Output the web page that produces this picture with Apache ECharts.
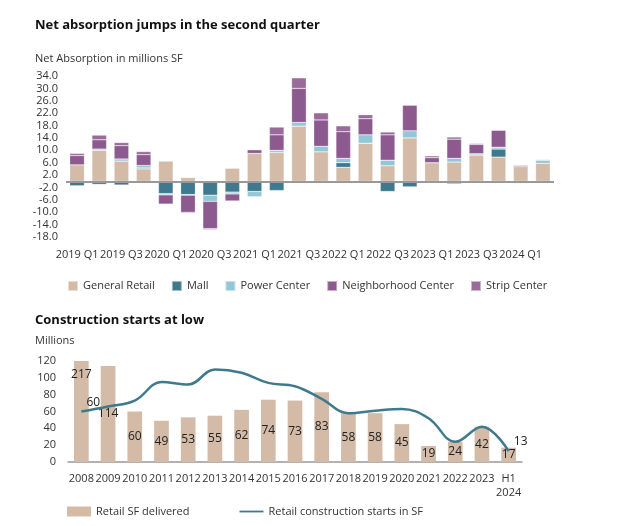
<!DOCTYPE html><html><head><meta charset="utf-8"><script src="https://cdn.jsdelivr.net/npm/echarts@6/dist/echarts.min.js"></script>
<style>body{margin:0;background:#fff}#c{width:630px;height:526px}</style></head><body><div id="c"></div><script>
const quarters=['2019 Q1','2019 Q2','2019 Q3','2019 Q4','2020 Q1','2020 Q2','2020 Q3','2020 Q4','2021 Q1','2021 Q2','2021 Q3','2021 Q4','2022 Q1','2022 Q2','2022 Q3','2022 Q4','2023 Q1','2023 Q2','2023 Q3','2023 Q4','2024 Q1','2024 Q2'];
const generalPos=[5.3,10,6.5,4,6.5,1.2,0,4.2,9,9.3,17.8,9.5,4.5,12.3,5,14,6,6.2,8.5,7.8,4.7,5.8];
const mallPos=[0,0,0,0.3,0,0,0,0,0,0,0,0,1.5,0,0,0,0,0,0,2.6,0,0];
const powerPos=[0,0.4,0.7,0.8,0,0,0,0,0,0.7,1.2,1.8,1.4,2.7,1.8,2.3,0,1.2,0.4,0.6,0,1];
const neighPos=[3.0,3.0,4.3,3.5,0,0,0,0.7,1.2,5,11,8.5,8.6,5.2,8.2,8.3,1.6,6.2,3,5.5,0,0.5];
const stripPos=[0.7,1.5,1,1,0,0,0,0,0,2.5,3.4,2.3,1.9,1.3,0.9,0,0.6,0.7,0.3,0,0.4,0.2];
const mallNeg=[-1.5,-1,-1.2,0,-4,-4.3,-4.5,-3.5,-3.3,-3,-0.4,-0.4,0,0,-3.3,-1.8,0,-0.8,0,0,-0.3,-0.5];
const powerNeg=[0,0,0,0,-0.4,-0.2,-2,-0.6,-1.7,0,0,0,0,0,0,0,0,0,0,0,-0.4,0];
const neighNeg=[0,0,0,0,-3,-5.5,-8.8,-3,0,0,0,0,0,0,0,0,0,0,0,0,0,-0.6];
const stripNeg=[0,0,0,0,0,-0.3,-0.3,0,0,0,0,0,0,0,0,0,0,0,0,0,0,0];
const years=['2008','2009','2010','2011','2012','2013','2014','2015','2016','2017','2018','2019','2020','2021','2022','2023','H1\n2024'];
const delivered=[217,114,60,49,53,55,62,74,73,83,58,58,45,19,24,42,17];
const starts=[60,66,73,95,92,110,106,94,90,75,58,61,63,52,24,42,13];
const C={g:'#d3bba8',m:'#3e7a8d',p:'#93c6d7',n:'#8c5a8e',s:'#9a6a9b'};
const F='"Open Sans", "Noto Sans", sans-serif';
function mix(a,b){return a.map((v,i)=>v+b[i]);}
const tb=(name,d,col)=>({name,type:'bar',stack:'a',data:d,xAxisIndex:0,yAxisIndex:0,barWidth:'66%',itemStyle:{color:col,borderColor:'rgba(255,255,255,0.5)',borderWidth:0.5}});
const series=[tb('General Retail',generalPos,C.g),tb('Mall',mix(mallPos,mallNeg),C.m),tb('Power Center',mix(powerPos,powerNeg),C.p),tb('Neighborhood Center',mix(neighPos,neighNeg),C.n),tb('Strip Center',mix(stripPos,stripNeg),C.s)];
series[0].markLine={silent:true,symbol:'none',label:{show:false},lineStyle:{color:'#999',width:2,type:'solid'},data:[{yAxis:0}]};
series.push({name:'Retail SF delivered',type:'bar',xAxisIndex:1,yAxisIndex:1,data:delivered.map((v,i)=>i===0?{value:v,label:{position:'insideTop',distance:8}}:v),barWidth:'55%',itemStyle:{color:'#d3bba8'},label:{show:true,position:'inside',fontSize:12,color:'#222'}});
series.push({name:'Retail construction starts in SF',type:'line',xAxisIndex:1,yAxisIndex:1,data:starts,smooth:0.4,symbol:'circle',symbolSize:0.01,showSymbol:true,lineStyle:{color:'#3e7a8d',width:2.5},itemStyle:{color:'#3e7a8d'},
label:{show:true,position:'top',fontSize:12,color:'#222',formatter:p=>(p.dataIndex===0||p.dataIndex===starts.length-1)?String(p.value):'',offset:[12,2]}});
const ch=echarts.init(document.getElementById('c'));
ch.setOption({animation:false,textStyle:{fontFamily:F},
title:[{text:'Net absorption jumps in the second quarter',left:30,top:14,textStyle:{fontSize:13,fontWeight:'bold',color:'#111',fontFamily:F}},
{text:'Net Absorption in millions SF',left:30,top:48,textStyle:{fontSize:11,fontWeight:'normal',color:'#333',fontFamily:F}},
{text:'Construction starts at low',left:30,top:309,textStyle:{fontSize:13,fontWeight:'bold',color:'#111',fontFamily:F}},
{text:'Millions',left:30,top:330,textStyle:{fontSize:11,fontWeight:'normal',color:'#333',fontFamily:F}}],
legend:[{top:275,left:62,itemWidth:10,itemHeight:10,itemGap:16,icon:'rect',textStyle:{fontSize:11,color:'#333'},data:['General Retail','Mall','Power Center','Neighborhood Center','Strip Center']},
{top:501,left:62,itemGap:50,textStyle:{fontSize:11,color:'#333'},data:[{name:'Retail SF delivered',icon:'rect'},{name:'Retail construction starts in SF',icon:'path://M0,3.5L40,3.5L40,6.5L0,6.5Z'}],itemWidth:24,itemHeight:10}],
grid:[{left:66,right:76,top:76,height:161},{left:68,right:108,top:361,height:101}],
xAxis:[{type:'category',gridIndex:0,data:quarters,axisTick:{show:false},axisLine:{show:false,onZero:false},axisLabel:{interval:1,fontSize:11,color:'#333',margin:12}},
{type:'category',gridIndex:1,data:years,axisTick:{show:false},axisLine:{lineStyle:{color:'#999',width:1.5}},axisLabel:{interval:0,fontSize:11,color:'#333',margin:10,lineHeight:14}}],
yAxis:[{type:'value',gridIndex:0,min:-18,max:34,interval:4,splitLine:{show:false},axisLabel:{fontSize:11,color:'#333',formatter:v=>v.toFixed(1),margin:8}},
{type:'value',gridIndex:1,min:0,max:120,interval:20,splitLine:{show:false},axisLabel:{fontSize:11,color:'#333',margin:12}}],
series
});
</script></body></html>
